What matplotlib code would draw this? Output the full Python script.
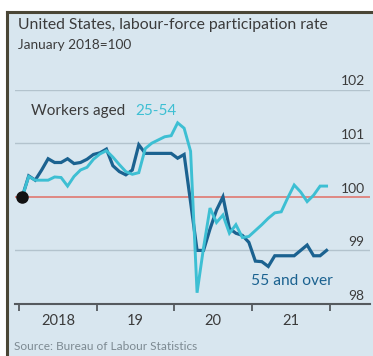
import numpy as np
import matplotlib
matplotlib.use("Agg")
import matplotlib.pyplot as plt
import matplotlib.transforms as mtransforms
from matplotlib.patches import Rectangle
from matplotlib.lines import Line2D

# monthly index, January 2018 = 100
start_year = 2018
n_months = 48

prime_age = [100.0, 100.38, 100.31, 100.31, 100.31, 100.37, 100.36, 100.2, 100.38, 100.5,
             100.55, 100.7, 100.8, 100.86, 100.74, 100.6, 100.47, 100.42, 100.45, 100.9,
             101.0, 101.06, 101.12, 101.14, 101.38, 101.28, 100.85, 98.21, 99.05, 99.79,
             99.52, 99.66, 99.32, 99.48, 99.24, 99.26, 99.37, 99.48, 99.6, 99.7,
             99.72, 99.98, 100.22, 100.09, 99.91, 100.03, 100.2, 100.2]
older = [100.0, 100.39, 100.31, 100.5, 100.71, 100.64, 100.64, 100.71, 100.62, 100.64,
         100.7, 100.79, 100.82, 100.89, 100.58, 100.47, 100.41, 100.5, 100.97, 100.81,
         100.81, 100.81, 100.81, 100.81, 100.72, 100.79, 99.9, 99.0, 99.0, 99.4,
         99.75, 100.0, 99.41, 99.32, 99.28, 99.15, 98.8, 98.79, 98.7, 98.9,
         98.9, 98.9, 98.9, 99.0, 99.1, 98.9, 98.9, 99.0]

y_ticks = [98, 99, 100, 101, 102]
year_ticks = [2018, 2019, 2020, 2021, 2022]
year_labels = ["2018", "19", "20", "21"]

BG = "#d8e6ef"
CYAN = "#3dbfd3"
NAVY = "#1b6290"
GRID = "#b3c3cd"
RED = "#e07870"
TEXT = "#3b3b3b"
GREY = "#7d8a92"

plt.rcParams["font.family"] = ["Lato", "DejaVu Sans"]

W, H = 373, 356
fig = plt.figure(figsize=(W / 100, H / 100), dpi=100)
fig.patch.set_facecolor("white")

# panel background and frame
fig.patches.append(Rectangle((7 / W, 0), 1, (H - 12) / H, transform=fig.transFigure,
                             facecolor=BG, edgecolor="none", zorder=-5))
fig.lines.append(Line2D([6.5 / W, 1], [(H - 12) / H] * 2, transform=fig.transFigure,
                        color="#4a4636", lw=2.2, zorder=-4))
fig.lines.append(Line2D([6.5 / W] * 2, [0, (H - 12) / H], transform=fig.transFigure,
                        color="#4a4636", lw=2.2, zorder=-4))

ax_left, ax_right = 15, 370
ax_top, ax_bottom = 89.6, 304
ax = fig.add_axes([ax_left / W, (H - ax_bottom) / H, (ax_right - ax_left) / W,
                   (ax_bottom - ax_top) / H])
ax.set_facecolor("none")
ax.set_zorder(2)

x0 = start_year - 4 / 77.7
x1 = start_year + (ax_right - 19) / 77.7
ax.set_xlim(x0, x1)
ax.set_ylim(98, 102)

for s in ax.spines.values():
    s.set_visible(False)

# horizontal rules with labels sitting on top of them
label_tf = mtransforms.blended_transform_factory(ax.transAxes, ax.transData)
for v in y_ticks:
    if v == 100:
        ax.axhline(v, color=RED, lw=1.2, zorder=1)
    elif v == 98:
        ax.axhline(v, color="#555a5e", lw=1.5, zorder=1, clip_on=False)
    else:
        ax.axhline(v, color=GRID, lw=1.0, zorder=1)
    ax.text(0.985, v + 0.04, str(v), transform=label_tf,
            ha="right", va="bottom", fontsize=10, color=TEXT)
ax.set_yticks([])

ax.set_xticks(year_ticks)
ax.set_xticklabels([])
ax.set_xticks([y + 0.5 for y in year_ticks[:-1]], minor=True)
ax.set_xticklabels(year_labels, minor=True)
ax.tick_params(axis="x", which="major", direction="out", length=5, width=1.3, color="#555a5e")
ax.tick_params(axis="x", which="minor", length=0, pad=7, labelsize=10.5, labelcolor=TEXT)

months = np.arange(n_months)
x = start_year + (months + 0.5) / 12
ax.plot(x, older, color=NAVY, lw=2.3, solid_joinstyle="miter", zorder=3)
ax.plot(x, prime_age, color=CYAN, lw=2.1, solid_joinstyle="miter", zorder=4)
ax.plot(x[0], 100, "o", color="#111111", ms=8, zorder=5, clip_on=False)

ax.text(2018.15, 101.6, "Workers aged", fontsize=11, color=TEXT, va="center")
ax.text(2019.5, 101.6, "25-54", fontsize=11, color=CYAN, va="center")
ax.text(2020.99, 98.42, "55 and over", fontsize=11.2, color=NAVY, va="center")

fig.text(18 / W, 1 - 25 / H, "United States, labour-force participation rate",
         fontsize=11.3, color=TEXT, va="center")
fig.text(18 / W, 1 - 45 / H, "January 2018=100", fontsize=9.8, color=TEXT, va="center")
fig.text(14 / W, 1 - 347 / H, "Source: Bureau of Labour Statistics", fontsize=8.6,
         color=GREY, va="center")

fig.savefig("out.png", dpi=100, facecolor=fig.get_facecolor())
